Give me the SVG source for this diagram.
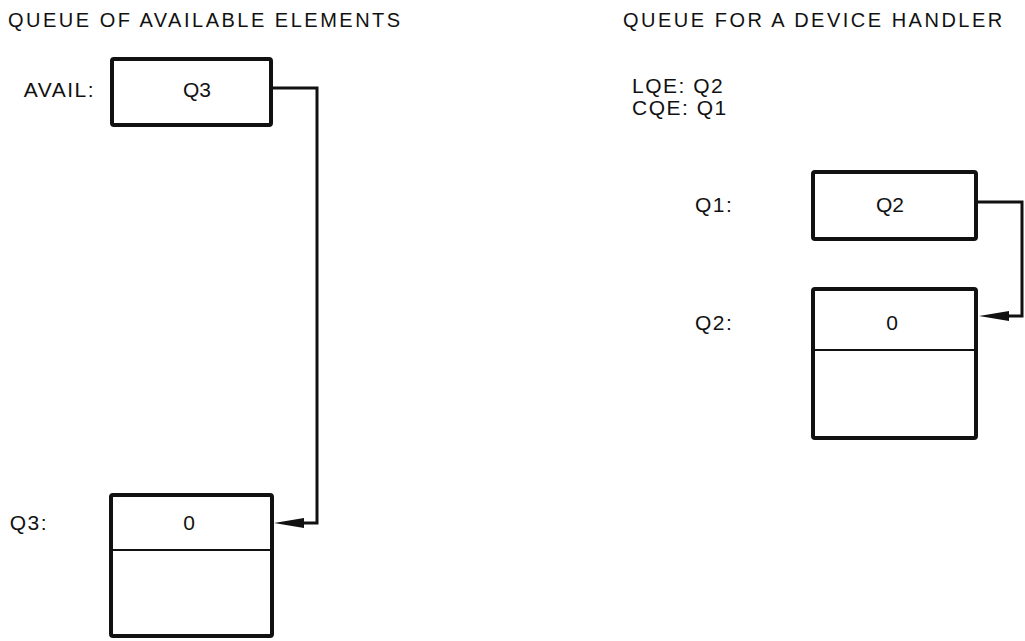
<svg xmlns="http://www.w3.org/2000/svg" width="1025" height="641" viewBox="0 0 1025 641">
<style>
text{font-family:"Liberation Sans",Arial,sans-serif;font-size:21px;fill:#111;letter-spacing:1.5px}
.title{font-size:20px;letter-spacing:2.5px}
.box{fill:none;stroke:#111;stroke-width:4;stroke-linejoin:round}
.div{stroke:#111;stroke-width:2}
.conn{fill:none;stroke:#111;stroke-width:3}
.mid{text-anchor:middle;letter-spacing:0}
.end{text-anchor:end}
.head{fill:#111}
</style>
<text class="title" x="8" y="27">QUEUE OF AVAILABLE ELEMENTS</text>
<text class="title" x="623" y="27">QUEUE FOR A DEVICE HANDLER</text>
<text x="632" y="93">LQE: Q2</text>
<text x="632" y="115">CQE: Q1</text>
<g id="avail">
<text class="end" x="95" y="97">AVAIL:</text>
<rect class="box" x="112" y="59" width="159" height="66" rx="2"/>
<text class="mid" x="197" y="97">Q3</text>
</g>
<g id="q3">
<text class="end" x="48" y="530">Q3:</text>
<rect class="box" x="111" y="495" width="161" height="141" rx="2"/>
<line class="div" x1="111" y1="550" x2="272" y2="550"/>
<text class="mid" x="189" y="530">0</text>
</g>
<g id="q1">
<text x="695" y="212">Q1:</text>
<rect class="box" x="813" y="172" width="163" height="67" rx="2"/>
<text class="mid" x="890" y="212">Q2</text>
</g>
<g id="q2">
<text x="695" y="330">Q2:</text>
<rect class="box" x="813" y="289" width="163" height="149" rx="2"/>
<line class="div" x1="813" y1="350" x2="976" y2="350"/>
<text class="mid" x="892" y="330">0</text>
</g>
<g id="connectors">
<path class="conn" d="M273,88 H317 V523 H302"/>
<path class="head" d="M274,523 L304,518 L304,528 Z"/>
<path class="conn" d="M978,202 H1022 V316 H1007"/>
<path class="head" d="M979,316 L1009,311 L1009,321 Z"/>
</g>
</svg>
